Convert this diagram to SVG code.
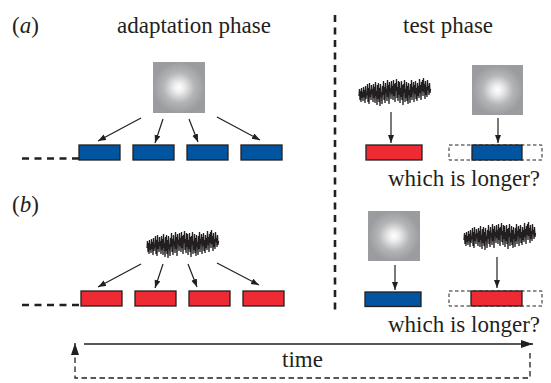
<svg xmlns="http://www.w3.org/2000/svg" xmlns:xlink="http://www.w3.org/1999/xlink" width="551" height="383" viewBox="0 0 551 383">
<style>
.t{font-family:"Liberation Serif","Times New Roman",Times,"DejaVu Serif",serif;font-size:23px;fill:#231f20}
.blue{fill:#0054a0;stroke:#231f20;stroke-width:1.3}
.red{fill:#ee2a32;stroke:#231f20;stroke-width:1.3}
.dbox{fill:none;stroke:#231f20;stroke-width:1;stroke-dasharray:3.5 2.5}
.arr{fill:none;stroke:#231f20;stroke-width:1.2;marker-end:url(#ah)}
.thick{fill:none;stroke:#231f20;stroke-width:2.6;stroke-dasharray:7 5.5}
.tdash{fill:none;stroke:#231f20;stroke-width:1.3;stroke-dasharray:5.5 3.5}
.noise{fill:none;stroke:#231f20;stroke-width:1.3;stroke-linejoin:miter}
</style>
<defs>
<radialGradient id="glow" cx="50%" cy="50%" r="50%">
<stop offset="0" stop-color="#ffffff"/>
<stop offset="0.2" stop-color="#ededee"/>
<stop offset="0.6" stop-color="#b4b5b7"/>
<stop offset="1" stop-color="#9b9c9f"/>
</radialGradient>
<marker id="ah" markerUnits="userSpaceOnUse" markerWidth="9" markerHeight="7" refX="8" refY="3" orient="auto">
<path d="M0,0 L8,3 L0,6 z" fill="#231f20"/>
</marker>
<marker id="ahb" markerUnits="userSpaceOnUse" markerWidth="13" markerHeight="9" refX="12" refY="4" orient="auto">
<path d="M0,0 L12,4 L0,8 z" fill="#231f20"/>
</marker>
<polyline id="noise" class="noise" points="0,18 0.5,11 1,22 1.5,13 2,24 2.5,10 3,20 3.5,14 4,23 4.5,9 5,19 5.5,12 6,25 6.5,8 7,21 7.5,15 8,17 8.5,6 9,24 9.5,10 10,26 10.5,5 11,19 11.5,12 12,22 12.5,7 13,16 13.5,11 14,24 14.5,6 15,20 15.5,9 16,25 16.5,4 17,18 17.5,13 18,27 18.5,7 19,21 19.5,5 20,24 20.5,10 21,28 21.5,6 22,19 22.5,14 23,26 23.5,8 24,17 24.5,3 25,22 25.5,9 26,25 26.5,5 27,15 27.5,11 28,23 28.5,2 29,19 29.5,7 30,26 30.5,4 31,14 31.5,10 32,21 32.5,3 33,16 33.5,8 34,22 34.5,2 35,18 35.5,6 36,24 36.5,5 37,13 37.5,1 38,20 38.5,9 39,23 39.5,3 40,17 40.5,4 41,25 41.5,10 42,19 42.5,3 43,22 43.5,7 44,27 44.5,6 45,15 45.5,2 46,24 46.5,11 47,20 47.5,4 48,23 48.5,8 49,26 49.5,5 50,17 50.5,12 51,25 51.5,6 52,19 52.5,2 53,22 53.5,9 54,14 54.5,4 55,24 55.5,7 56,16 56.5,3 57,21 57.5,10 58,23 58.5,5 59,18 59.5,8 60,20 60.5,1 61,15 61.5,7 62,22 62.5,4 63,13 63.5,2 64,18 64.5,0 65,14 65.5,6 66,21 66.5,3 67,17 67.5,9 68,19 68.5,2 69,12 69.5,8 70,17 70.5,5 71,15 71.5,11"/>
</defs>

<g id="labels">
<text class="t" x="12" y="33">(<tspan font-style="italic">a</tspan>)</text>
<text class="t" x="117" y="33">adaptation phase</text>
<text class="t" x="403" y="33">test phase</text>
<text class="t" x="12" y="212">(<tspan font-style="italic">b</tspan>)</text>
<text class="t" x="388" y="186">which is longer?</text>
<text class="t" x="388" y="332">which is longer?</text>
<text class="t" x="282" y="367">time</text>
</g>

<g id="divider"><line x1="335" y1="15" x2="335" y2="312" class="thick" stroke-dasharray="6 4"/></g>

<g id="a-stimulus"><rect x="153" y="62" width="52" height="51" fill="url(#glow)"/></g>
<g id="a-history"><line x1="22" y1="158.5" x2="79" y2="158.5" class="thick"/></g>
<g id="a-box1"><rect class="blue" x="79" y="145" width="41" height="15"/></g>
<g id="a-box2"><rect class="blue" x="133" y="145" width="41" height="15"/></g>
<g id="a-box3"><rect class="blue" x="187" y="145" width="41" height="15"/></g>
<g id="a-box4"><rect class="blue" x="241" y="145" width="41" height="15"/></g>

<g id="a-test-noise"><use xlink:href="#noise" x="359" y="78"/></g>
<g id="a-test-red"><rect class="red" x="366" y="145" width="56" height="15"/></g>
<g id="a-test-stimulus"><rect x="472" y="65" width="51" height="50" fill="url(#glow)"/></g>
<g id="a-test-compare"><rect class="dbox" x="449" y="145" width="93" height="15"/><rect class="blue" x="472" y="145" width="50" height="15"/></g>

<g id="b-noise"><use xlink:href="#noise" x="147" y="230"/></g>
<g id="b-history"><line x1="22" y1="305" x2="81" y2="305" class="thick"/></g>
<g id="b-box1"><rect class="red" x="81" y="291" width="41" height="15"/></g>
<g id="b-box2"><rect class="red" x="135" y="291" width="41" height="15"/></g>
<g id="b-box3"><rect class="red" x="189" y="291" width="41" height="15"/></g>
<g id="b-box4"><rect class="red" x="243" y="291" width="41" height="15"/></g>

<g id="b-test-stimulus"><rect x="368" y="211" width="52" height="50" fill="url(#glow)"/></g>
<g id="b-test-blue"><rect class="blue" x="365" y="292" width="56" height="14.5"/></g>
<g id="b-test-noise"><use xlink:href="#noise" x="464" y="222"/></g>
<g id="b-test-compare"><rect class="dbox" x="449" y="291" width="93" height="15"/><rect class="red" x="471" y="291" width="51" height="15"/></g>

<g id="connectors">
<line class="arr" x1="141" y1="118" x2="98" y2="141"/>
<line class="arr" x1="163" y1="119" x2="155" y2="143"/>
<line class="arr" x1="189" y1="119" x2="198" y2="142"/>
<line class="arr" x1="217" y1="117" x2="260" y2="140"/>
<line class="arr" x1="391" y1="112" x2="391" y2="143"/>
<line class="arr" x1="498" y1="118" x2="498" y2="143"/>
<line class="arr" x1="141" y1="264" x2="98" y2="287"/>
<line class="arr" x1="163" y1="264" x2="155" y2="288"/>
<line class="arr" x1="188" y1="264" x2="197" y2="287"/>
<line class="arr" x1="217" y1="263" x2="259" y2="285"/>
<line class="arr" x1="395" y1="265" x2="395" y2="290"/>
<line class="arr" x1="497" y1="257" x2="497" y2="288"/>
<line x1="84" y1="344" x2="533" y2="344" stroke="#231f20" stroke-width="1.3" marker-end="url(#ahb)"/>
<path class="tdash" d="M530,353 V378 H75 V343" marker-end="url(#ahb)"/>
</g>
</svg>
